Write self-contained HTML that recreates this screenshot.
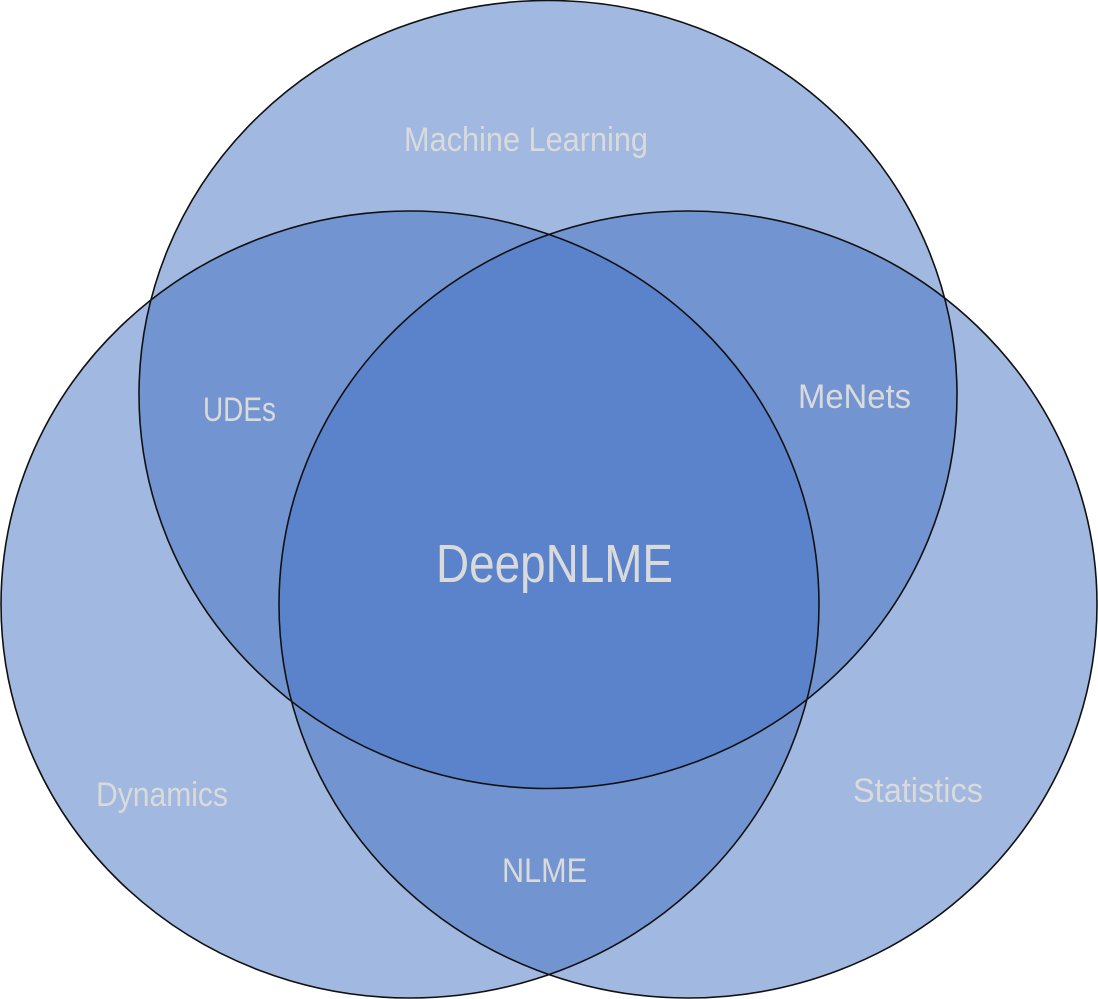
<!DOCTYPE html>
<html><head><meta charset="utf-8"><style>
html,body{margin:0;padding:0;background:#fff;}
svg{display:block}
text{font-family:"Liberation Sans",sans-serif;fill:#dadada;}
</style></head><body>
<svg width="1098" height="999" viewBox="0 0 1098 999">
<g fill="#4472c4" fill-opacity="0.5">
<ellipse cx="548" cy="394.5" rx="409" ry="394"/>
<ellipse cx="410" cy="604.5" rx="409" ry="393.5"/>
<ellipse cx="688" cy="604.5" rx="409" ry="393.5"/>
</g>
<g fill="none" stroke="#111" stroke-width="1.6">
<ellipse cx="548" cy="394.5" rx="409" ry="394"/>
<ellipse cx="410" cy="604.5" rx="409" ry="393.5"/>
<ellipse cx="688" cy="604.5" rx="409" ry="393.5"/>
</g>
<text x="404" y="151" font-size="34" textLength="244" lengthAdjust="spacingAndGlyphs">Machine Learning</text>
<text x="203" y="421" font-size="34" textLength="73" lengthAdjust="spacingAndGlyphs">UDEs</text>
<text x="798" y="408" font-size="34" textLength="113" lengthAdjust="spacingAndGlyphs">MeNets</text>
<text x="436" y="582" font-size="54" textLength="237" lengthAdjust="spacingAndGlyphs">DeepNLME</text>
<text x="96" y="806" font-size="34" textLength="132" lengthAdjust="spacingAndGlyphs">Dynamics</text>
<text x="853" y="802" font-size="34" textLength="130" lengthAdjust="spacingAndGlyphs">Statistics</text>
<text x="502" y="882" font-size="34" textLength="85" lengthAdjust="spacingAndGlyphs">NLME</text>
</svg>
</body></html>
